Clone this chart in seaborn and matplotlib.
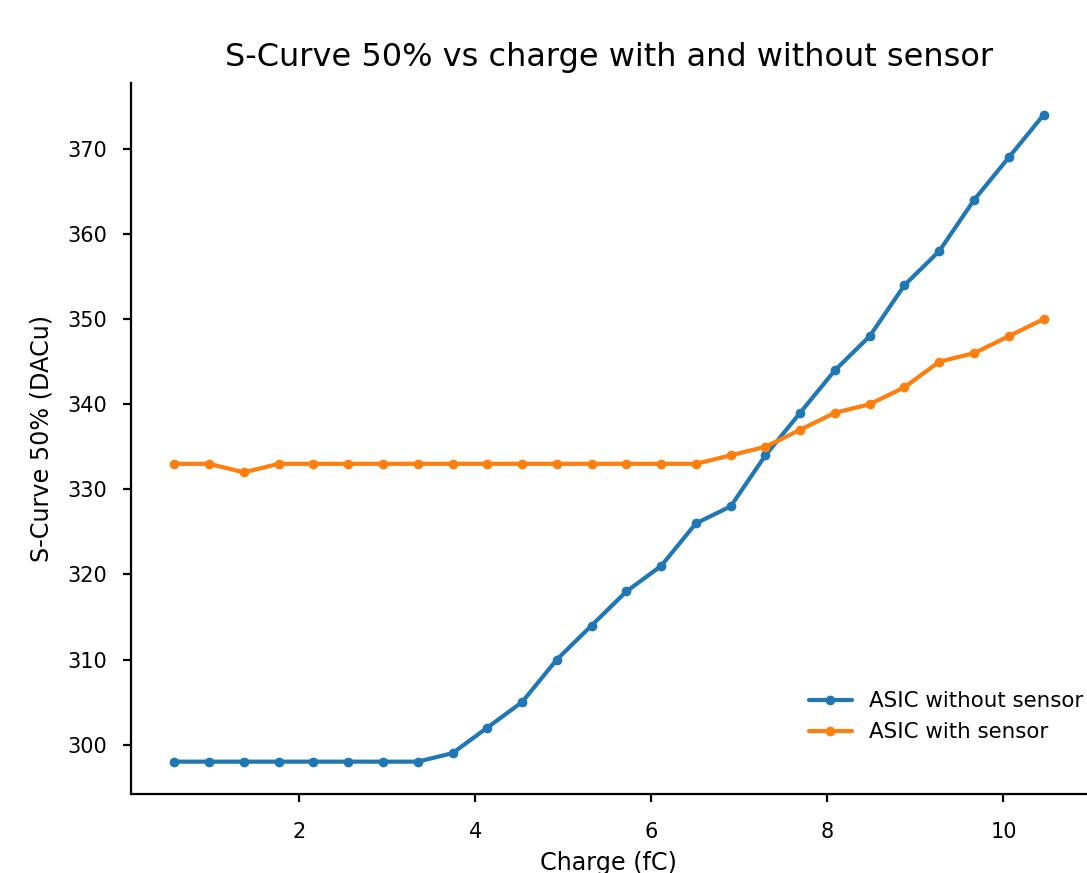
import seaborn as sns
import matplotlib.pyplot as plt
import pandas as pd

# charge values (fC)
charge = [0.58, 0.975, 1.37, 1.765, 2.16, 2.555, 2.95, 3.345, 3.74, 4.135,
          4.53, 4.925, 5.32, 5.715, 6.11, 6.505, 6.90, 7.295, 7.69, 8.085,
          8.48, 8.875, 9.27, 9.665, 10.06, 10.455]

# S-Curve 50% values (DACu)
no_sensor = [298, 298, 298, 298, 298, 298, 298, 298, 299, 302,
             305, 310, 314, 318, 321, 326, 328, 334, 339, 344,
             348, 354, 358, 364, 369, 374]
with_sensor = [333, 333, 332, 333, 333, 333, 333, 333, 333, 333,
               333, 333, 333, 333, 333, 333, 334, 335, 337, 339,
               340, 342, 345, 346, 348, 350]

labels = ["ASIC without sensor", "ASIC with sensor"]

df = pd.concat([
    pd.DataFrame({"charge": charge, "value": no_sensor, "series": labels[0]}),
    pd.DataFrame({"charge": charge, "value": with_sensor, "series": labels[1]}),
])

sns.set_style("ticks", {"axes.edgecolor": "black", "text.color": "black",
                        "axes.labelcolor": "black", "xtick.color": "black",
                        "ytick.color": "black"})

fig = plt.figure(figsize=(5.435, 4.365), dpi=200)
ax = fig.add_axes([0.1205, 0.0905, 0.8795, 0.8149])

sns.lineplot(data=df, x="charge", y="value", hue="series", marker="o",
             palette=["#1f77b4", "#ff7f0e"], linewidth=1.5, markersize=3.5,
             markeredgewidth=0, ax=ax)

sns.despine(ax=ax)
ax.set_title("S-Curve 50% vs charge with and without sensor", fontsize=11.5)
ax.set_xlabel("Charge (fC)", fontsize=8.6, labelpad=3.5)
ax.set_ylabel("S-Curve 50% (DACu)", fontsize=8.6, labelpad=5)
ax.tick_params(axis="both", labelsize=7.5, width=0.8, length=3)
ax.tick_params(axis="y", pad=5.6)
ax.tick_params(axis="x", pad=7)
for s in ax.spines.values():
    s.set_linewidth(0.8)
ax.legend(title=None, frameon=False, loc="lower right", fontsize=7.7,
          bbox_to_anchor=(1.016, 0.046))

fig.savefig("out.png", dpi=200)
